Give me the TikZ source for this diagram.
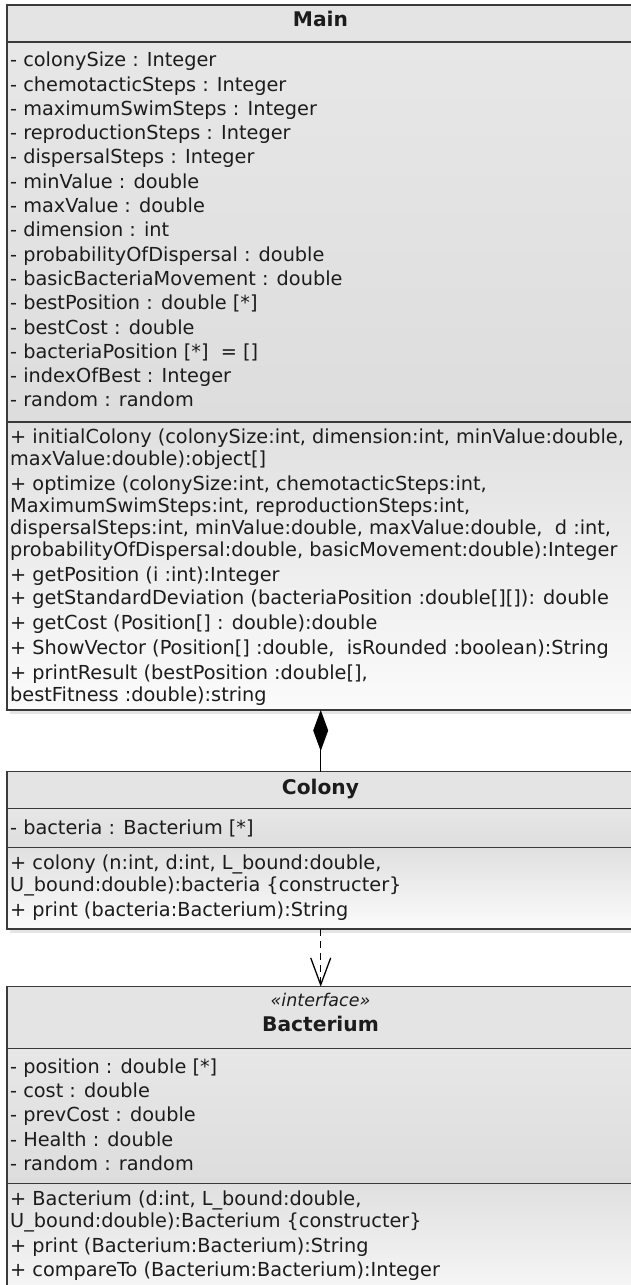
\documentclass[tikz,border=0pt]{standalone}
\usepackage{fontspec}
\setmainfont{DejaVu Sans}
\usetikzlibrary{arrows.meta}
\definecolor{edgec}{HTML}{3A3A3A}
\definecolor{hdrc}{HTML}{E4E4E4}
\definecolor{attrtop}{HTML}{E7E7E7}
\definecolor{attrbot}{HTML}{DDDDDD}
\definecolor{opstop}{HTML}{E0E0E0}
\definecolor{opsbot}{HTML}{FBFBFB}
\definecolor{txtc}{HTML}{1C1C1C}
\begin{document}
\begin{tikzpicture}[x=1pt,y=-1pt,
  sec/.style={draw=edgec, line width=1.5pt, anchor=north west, minimum width=700pt, inner sep=0pt, outer sep=0pt},
  hdr/.style={sec, fill=hdrc},
  attrsec/.style={sec, top color=attrtop, bottom color=attrbot},
  opssec/.style={sec, top color=opstop, bottom color=opsbot},
  txt/.style={anchor=base west, inner sep=0pt, font=\fontsize{19.3}{22}\selectfont, text=txtc},
  ttl/.style={anchor=base, inner sep=0pt, font=\fontsize{20.2}{24}\selectfont\bfseries, text=txtc},
  stereo/.style={anchor=base, inner sep=0pt, font=\fontsize{17.5}{20}\selectfont\itshape, text=txtc},
  shadowband/.style={fill=black!10},
  comp/.style={line width=1.5pt, draw=black, -{Diamond[length=41pt, width=15pt, fill=black]}},
  dep/.style={line width=1.3pt, draw=black, dash pattern=on 7pt off 5pt, -{Straight Barb[length=27pt, width=20pt, line width=1.3pt]}}
]
\useasboundingbox (0,0) rectangle (631,1285);
\clip (0,0) rectangle (631,1285);
\fill[white] (0,0) rectangle (631,1285);

% shadows
\fill[shadowband] (10,711) rectangle (700,714);
\fill[shadowband] (10,930) rectangle (700,933);

% ---------- Main ----------
\node[hdr, minimum height=37pt] (mainhead) at (7,5) {};
\node[attrsec, minimum height=380pt] (mainattr) at (7,42) {};
\node[opssec, minimum height=288pt] (mainops) at (7,422) {};
\node[ttl] (maintitle) at (320.5,26.7) {Main};

\node[txt] (ma0) at (10,66.7) {- colonySize : Integer};
\node[txt] (ma1) at (10,91.0) {- chemotacticSteps : Integer};
\node[txt] (ma2) at (10,115.3) {- maximumSwimSteps : Integer};
\node[txt] (ma3) at (10,139.6) {- reproductionSteps : Integer};
\node[txt] (ma4) at (10,163.9) {- dispersalSteps : Integer};
\node[txt] (ma5) at (10,188.2) {- minValue : double};
\node[txt] (ma6) at (10,212.5) {- maxValue : double};
\node[txt] (ma7) at (10,236.8) {- dimension : int};
\node[txt] (ma8) at (10,261.1) {- probabilityOfDispersal : double};
\node[txt] (ma9) at (10,285.4) {- basicBacteriaMovement : double};
\node[txt] (ma10) at (10,309.7) {- bestPosition : double [*]};
\node[txt] (ma11) at (10,334.0) {- bestCost : double};
\node[txt] (ma12) at (10,358.3) {- bacteriaPosition [*] \ = []};
\node[txt] (ma13) at (10,382.6) {- indexOfBest : Integer};
\node[txt] (ma14) at (10,406.9) {- random : random};

\node[txt] (mo0) at (10,443.3) {+ initialColony (colonySize:int, dimension:int, minValue:double,};
\node[txt] (mo1) at (10,465.0) {maxValue:double):object[]};
\node[txt] (mo2) at (10,490.0) {+ optimize (colonySize:int, chemotacticSteps:int,};
\node[txt] (mo3) at (10,512.3) {MaximumSwimSteps:int, reproductionSteps:int,};
\node[txt] (mo4) at (10,534.3) {dispersalSteps:int, minValue:double, maxValue:double, \ d :int,};
\node[txt] (mo5) at (10,556.3) {probabilityOfDispersal:double, basicMovement:double):Integer};
\node[txt] (mo6) at (10,581.0) {+ getPosition (i :int):Integer};
\node[txt] (mo7) at (10,604.6) {+ getStandardDeviation (bacteriaPosition :double[][]): double};
\node[txt] (mo8) at (10,629.3) {+ getCost (Position[] : double):double};
\node[txt] (mo9) at (10,654.0) {+ ShowVector (Position[] :double, \ isRounded :boolean):String};
\node[txt] (mo10) at (10,679.0) {+ printResult (bestPosition :double[],};
\node[txt] (mo11) at (10,701.0) {bestFitness :double):string};

% ---------- Colony ----------
\node[hdr, minimum height=36.6pt] (colhead) at (7,771.7) {};
\node[attrsec, minimum height=39pt] (colattr) at (7,808.3) {};
\node[opssec, minimum height=81.7pt] (colops) at (7,847.3) {};
\node[ttl] (coltitle) at (320.5,794) {Colony};
\node[txt] (ca0) at (10,834) {- bacteria : Bacterium [*]};
\node[txt] (co0) at (10,869.3) {+ colony (n:int, d:int, L\_bound:double,};
\node[txt] (co1) at (10,891.0) {U\_bound:double):bacteria \{constructer\}};
\node[txt] (co2) at (10,916.7) {+ print (bacteria:Bacterium):String};

% ---------- Bacterium ----------
\node[hdr, minimum height=61.6pt] (bachead) at (7,986.7) {};
\node[attrsec, minimum height=135pt] (bacattr) at (7,1048.3) {};
\node[opssec, minimum height=130pt] (bacops) at (7,1183.3) {};
\node[stereo] (bacstereo) at (320.5,1006) {«interface»};
\node[ttl] (bactitle) at (320.5,1031.7) {Bacterium};
\node[txt] (ba0) at (10,1073.3) {- position : double [*]};
\node[txt] (ba1) at (10,1097.5) {- cost : double};
\node[txt] (ba2) at (10,1121.7) {- prevCost : double};
\node[txt] (ba3) at (10,1146.0) {- Health : double};
\node[txt] (ba4) at (10,1170.0) {- random : random};
\node[txt] (bo0) at (10,1205.0) {+ Bacterium (d:int, L\_bound:double,};
\node[txt] (bo1) at (10,1227.7) {U\_bound:double):Bacterium \{constructer\}};
\node[txt] (bo2) at (10,1252.3) {+ print (Bacterium:Bacterium):String};
\node[txt] (bo3) at (10,1276.0) {+ compareTo (Bacterium:Bacterium):Integer};

% ---------- connectors ----------
\coordinate (ax) at (320.7,0);
\draw[comp] (colhead.north -| ax) -- (mainops.south -| ax);
\draw[dep] (colops.south -| ax) -- (bachead.north -| ax);
\end{tikzpicture}
\end{document}
